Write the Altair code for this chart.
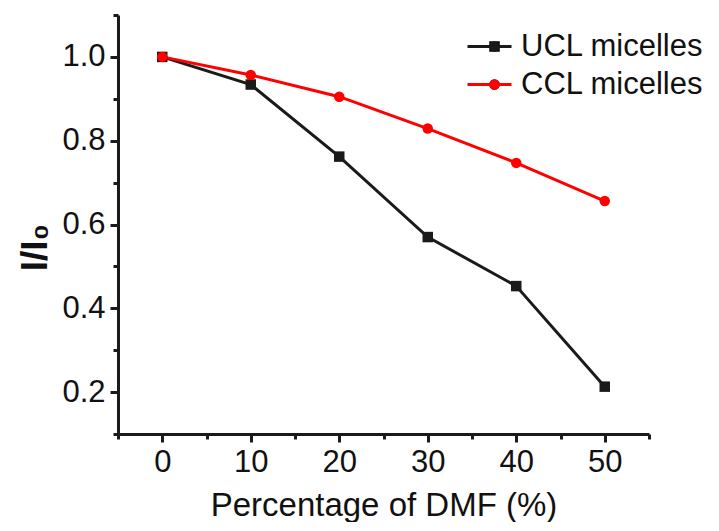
import altair as alt
import pandas as pd

# ---- data ----
dmf_percent = [0, 10, 20, 30, 40, 50]
ucl_values = [1.0, 0.934, 0.762, 0.570, 0.453, 0.213]
ccl_values = [1.0, 0.957, 0.905, 0.829, 0.747, 0.656]
series_names = ["UCL micelles", "CCL micelles"]
series_colors = ["#1a1a1a", "#ff0000"]
series_shapes = ["square", "circle"]
x_tick_values = [-5, 0, 5, 10, 15, 20, 25, 30, 35, 40, 45, 50, 55]
y_tick_values = [0.1, 0.2, 0.3, 0.4, 0.5, 0.6, 0.7, 0.8, 0.9, 1.0, 1.1]

rows = []
for name, vals in zip(series_names, [ucl_values, ccl_values]):
    for x, v in zip(dmf_percent, vals):
        rows.append({"dmf": x, "ratio": v, "series": name, "series2": name})
df = pd.DataFrame(rows)

FONT = "Liberation Sans"
INK = "#1a1a1a"

x_enc = alt.X(
    "dmf:Q",
    scale=alt.Scale(domain=[-5, 55], nice=False, zero=False),
    axis=alt.Axis(
        values=x_tick_values,
        format="d",
        labelExpr="datum.value % 10 === 0 ? datum.label : ''",
        tickSize={"condition": {"test": "datum.value % 10 === 0", "value": 8}, "value": 5},
        labelOverlap=False,
        labelFlush=False,
        labelPadding=5,
        title="Percentage of DMF (%)",
        titlePadding=12,
    ),
)
y_enc = alt.Y(
    "ratio:Q",
    scale=alt.Scale(domain=[0.1, 1.1], nice=False, zero=False),
    axis=alt.Axis(
        values=y_tick_values,
        format=".1f",
        labelExpr="round(datum.value * 10) % 2 === 0 ? datum.label : ''",
        tickSize={"condition": {"test": "round(datum.value * 10) % 2 === 0", "value": 8}, "value": 5},
        labelOverlap=False,
        labelFlush=False,
        labelPadding=5,
        title="I/I₀",
        titleFontWeight="bold",
        titleFontSize=37,
        titlePadding=7,
        titleY=232,
    ),
)

line_legend = alt.Legend(
    orient="none", legendX=356, legendY=16, title=None,
    symbolType="M-2,0H2", symbolSize=484, symbolStrokeWidth=3,
    labelFont=FONT, labelFontSize=31, labelColor="#111", labelOffset=16,
    labelLimit=400, rowPadding=6, padding=0,
)
point_legend = alt.Legend(
    orient="none", legendX=361, legendY=16, title=None,
    symbolSize=110, symbolStrokeWidth=0,
    labelFont=FONT, labelFontSize=31, labelExpr="''", labelOffset=0,
    rowPadding=6, padding=0,
)

base = alt.Chart(df)
lines = base.mark_line(strokeWidth=3).encode(
    x=x_enc, y=y_enc,
    color=alt.Color("series:N", scale=alt.Scale(domain=series_names, range=series_colors), legend=line_legend),
)
points = base.mark_point(filled=True, opacity=1, size=110).encode(
    x=x_enc, y=y_enc,
    color=alt.Color("series2:N", scale=alt.Scale(domain=series_names, range=series_colors), legend=point_legend),
    shape=alt.Shape("series2:N", scale=alt.Scale(domain=series_names, range=series_shapes), legend=point_legend),
)

chart = (
    alt.layer(lines, points)
    .resolve_scale(color="independent")
    .resolve_legend(color="independent")
    .properties(
        width=531, height=419,
        autosize=alt.AutoSizeParams(type="none"),
        padding={"left": 110, "top": 7, "right": 62, "bottom": 88},
        background="white",
    )
    .configure_view(stroke="transparent")
    .configure_axis(
        grid=False,
        domainColor=INK, domainWidth=3,
        tickColor=INK, tickWidth=3,
        labelFont=FONT, labelFontSize=31, labelColor="#111",
        titleFont=FONT, titleFontSize=33, titleColor="#111", titleFontWeight="normal",
    )
)

chart.save("out.html", embed_options={"renderer": "svg", "actions": False})
